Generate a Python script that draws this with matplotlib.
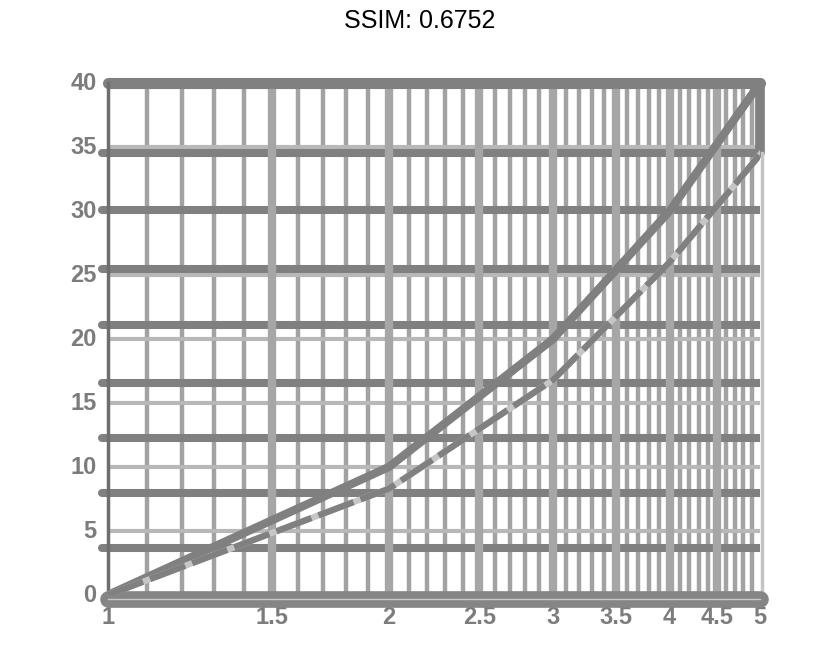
import numpy as np
import matplotlib.pyplot as plt

# valeurs
x_pts = [1, 2, 3, 4, 5]
y_solid = [0, 10, 20, 30, 40]
y_dash = [0, 8.3, 16.8, 26.0, 34.4]

x_ticks = [1, 1.5, 2, 2.5, 3, 3.5, 4, 4.5, 5]
x_labels = ['1', '1.5', '2', '2.5', '3', '3.5', '4', '4.5', '5']
y_ticks = [0, 5, 10, 15, 20, 25, 30, 35, 40]
y_labels = ['0', '5', '10', '15', '20', '25', '30', '35', '40']
x_minor = [round(1 + 0.1 * i, 1) for i in range(41) if (i % 5) != 0]

# grille decalee (seconde image)
y_shift = [3.7, 8.0, 12.3, 16.6, 21.1, 25.5, 30.1, 34.5]

plt.rcParams['font.family'] = ['Liberation Sans', 'DejaVu Sans']

fig = plt.figure(figsize=(8.4, 6.64), dpi=100)
fig.text(0.5, 1 - 21 / 664, 'SSIM: 0.6752', ha='center', va='center',
         fontsize=18, color='black')

ax = fig.add_axes([108 / 840, 1 - 595 / 664, 652 / 840, 512 / 664])
ax.set_xscale('log')
ax.set_xlim(1, 5)
ax.set_ylim(0, 40)
for s in ax.spines.values():
    s.set_visible(False)
ax.set_xticks([])
ax.set_yticks([])
ax.minorticks_off()

gris = '#808080'

# grille mineure verticale
for xv in x_minor:
    ax.plot([xv, xv], [0, 40], color='#a2a2a2', lw=3.2, zorder=1, solid_capstyle='butt')

# grille horizontale claire
for yv in y_ticks[1:-1]:
    ax.plot([1, 5], [yv, yv], color='#b8b8b8', lw=3, zorder=1.5, solid_capstyle='butt')

# grille decalee foncee
for yv in y_shift:
    ax.plot([1, 5], [yv, yv], color=gris, lw=5.8, zorder=2, solid_capstyle='round')
    ax.plot([0.985, 1], [yv, yv], color=gris, lw=5.8, zorder=2,
            solid_capstyle='round', clip_on=False)

# grille majeure verticale
for xv in x_ticks[1:-1]:
    ax.plot([xv, xv], [0.2, 40], color='#a6a6a6', lw=6, zorder=3, solid_capstyle='round')

# cadre
ax.plot([1, 5], [40, 40], color=gris, lw=8, zorder=4, solid_capstyle='round', clip_on=False)
ax.plot([1, 1], [-0.3, 40], color='#6e6e6e', lw=2.5, zorder=4, clip_on=False)
ax.plot([5, 5], [34.5, 40], color=gris, lw=7, zorder=4, solid_capstyle='round', clip_on=False)
ax.plot([5.02, 5.02], [-0.3, 34.5], color='#c4c4c4', lw=2.5, zorder=4, clip_on=False)
ax.plot([1, 5], [-0.35, -0.35], color='#858585', lw=12, zorder=4,
        solid_capstyle='round', clip_on=False)
ax.plot([1, 5], [-0.3, -0.3], color='#c8c8c8', lw=1, zorder=4.5, clip_on=False)

# courbes
ax.plot(x_pts, y_solid, color=gris, lw=6, zorder=5, solid_capstyle='round')
ax.plot(x_pts, y_dash, color='#c6c6c6', lw=4.5, zorder=5)
ax.plot(x_pts, y_dash, color=gris, lw=4.5, zorder=5.5, linestyle=(0, (6, 1.2)))

# etiquettes
for xv, lab in zip(x_ticks, x_labels):
    ax.text(xv, -1.75, lab, ha='center', va='center', fontsize=17, fontweight='bold',
            color='#7c7c7c', clip_on=False)
for yv, lab in zip(y_ticks, y_labels):
    ax.text(0.972, yv, lab, ha='right', va='center', fontsize=17, fontweight='bold',
            color='#7c7c7c', clip_on=False)

fig.savefig('out.png', dpi=100)
